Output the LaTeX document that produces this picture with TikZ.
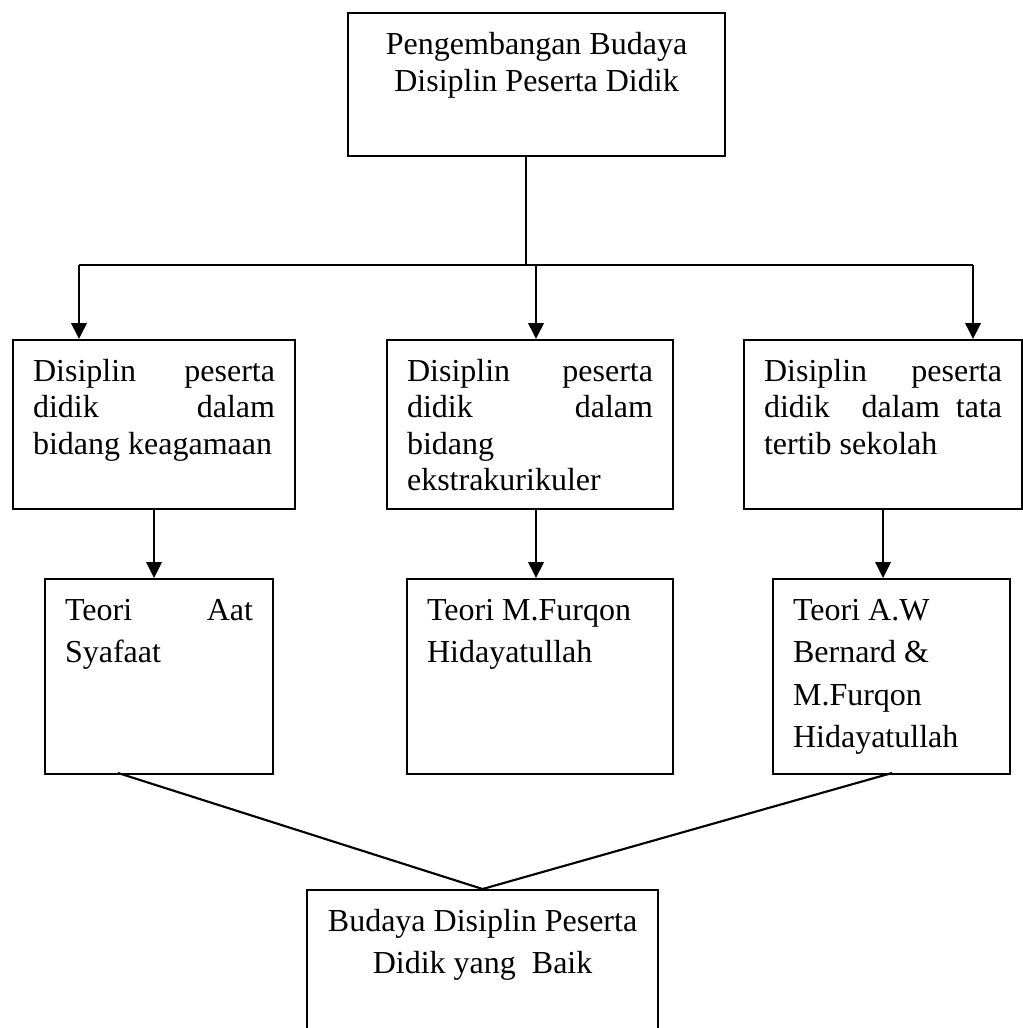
\documentclass[tikz,border=0pt]{standalone}
\usepackage{fontspec}
\setmainfont{Liberation Serif}
\usetikzlibrary{arrows.meta}
\newlength{\pks}\setlength{\pks}{0.375pt}
\newcommand{\isi}[5][]{\parbox[t][#3\pks][t]{#2\pks}{\hyphenpenalty=10000 #1\fontsize{32\pks}{#4\pks}\selectfont\rule{0pt}{41\pks}#5}}

\begin{document}
\begin{tikzpicture}[x=0.375pt,y=-0.375pt,line width=0.8pt,kotak/.style={draw,anchor=north west,inner xsep=7.5pt,inner ysep=0pt},panah/.style={-{Triangle[length=6pt,width=5.8pt]}}]
\path[use as bounding box,clip] (0,0) rectangle (1023,1028);
% kotak
\node[kotak] (atas) at (347,12) {\isi[\centering]{337}{143}{37}{Pengembangan Budaya\\ Disiplin Peserta Didik}};
\node[kotak] (d1) at (12,339) {\isi{242}{169}{36.5}{Disiplin peserta\linebreak didik dalam\linebreak bidang keagamaan}};
\node[kotak] (d2) at (386,339) {\isi{246}{169}{36.5}{Disiplin peserta\linebreak didik dalam\linebreak bidang\newline ekstrakurikuler}};
\node[kotak] (d3) at (743,339) {\isi{238}{169}{36.5}{Disiplin peserta\linebreak didik\ \ dalam tata\linebreak tertib sekolah}};
\node[kotak] (t1) at (44,578) {\isi{188}{195}{42.5}{Teori Aat\linebreak Syafaat}};
\node[kotak] (t2) at (406,578) {\isi{226}{195}{42.5}{Teori M.Furqon\newline Hidayatullah}};
\node[kotak] (t3) at (772,578) {\isi{197}{195}{42.5}{Teori A.W\newline Bernard \&\newline M.Furqon\newline Hidayatullah}};
\node[kotak] (hasil) at (306,889) {\isi[\centering]{311}{180}{42}{Budaya Disiplin Peserta\\ Didik yang\ \ Baik}};
% garis
\coordinate (cabang) at (526,265);
\coordinate (ki) at (79,265);
\coordinate (te) at (536,265);
\coordinate (ka) at (973,265);
\draw (atas.south -| cabang) -- (cabang);
\draw (ki) -- (ka);
\foreach \a/\b in {ki/d1,te/d2,ka/d3}{\draw[panah] (\a) -- (\a |- \b.north);};
\draw[panah] (d1.south) -- (d1.south |- t1.north);
\draw[panah] (te |- d2.south) -- (te |- t2.north);
\draw[panah] (d3.south) -- (d3.south |- t3.north);
\coordinate (k1) at (118,773);
\coordinate (k3) at (892,773);
\draw (k1) -- (hasil.north) -- (k3);
\end{tikzpicture}
\end{document}
